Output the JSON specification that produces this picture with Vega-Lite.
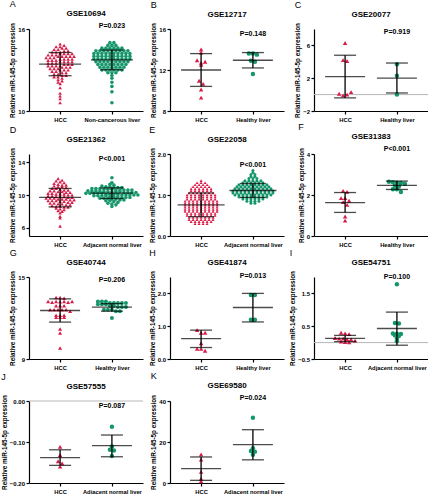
{
  "$schema": "https://vega.github.io/schema/vega-lite/v6.json",
  "background": "white",
  "padding": {"left": 1, "top": 0, "right": 0, "bottom": 0},
  "config": {
    "font": "Liberation Sans",
    "view": {"stroke": null},
    "axis": {"grid": false, "labelOverlap": false, "domainColor": "#000", "tickColor": "#000", "labelColor": "#000", "titleColor": "#000", "domainWidth": 1.2, "tickWidth": 1.2, "tickSize": 3, "labelFontWeight": "bold", "labelFontSize": 6, "labelPadding": 1.5, "titleFontSize": 6.3, "titleFontWeight": "bold", "titlePadding": 2},
    "axisY": {"labelBaseline": "middle", "labelAlign": "right"},
    "axisX": {"labelAngle": 0, "labelFontSize": 5.8, "labelPadding": 2},
    "title": {"fontSize": 8, "fontWeight": "bold", "color": "#000", "offset": 4},
    "point": {"filled": true, "opacity": 1, "strokeWidth": 0},
    "tick": {"color": "#000", "thickness": 1.3},
    "rule": {"color": "#000", "strokeWidth": 1.3},
    "text": {"fontWeight": "bold", "fontSize": 7, "color": "#000"}
  },
  "datasets": {
    "A": [
      {"g":"HCC","v":10.6},{"g":"HCC","v":10.9},{"g":"HCC","v":11.1},{"g":"HCC","v":11.3},{"g":"HCC","v":11.7},{"g":"HCC","v":12.0},{"g":"HCC","v":12.1},{"g":"HCC","v":12.2},
      {"g":"HCC","v":12.3},{"g":"HCC","v":12.4},{"g":"HCC","v":12.5},{"g":"HCC","v":12.5},{"g":"HCC","v":12.6},{"g":"HCC","v":12.6},{"g":"HCC","v":12.7},{"g":"HCC","v":12.7},{"g":"HCC","v":12.8},{"g":"HCC","v":12.8},{"g":"HCC","v":12.9},{"g":"HCC","v":12.9},
      {"g":"HCC","v":13.0},{"g":"HCC","v":13.0},{"g":"HCC","v":13.0},{"g":"HCC","v":13.1},{"g":"HCC","v":13.1},{"g":"HCC","v":13.1},{"g":"HCC","v":13.2},{"g":"HCC","v":13.2},{"g":"HCC","v":13.2},{"g":"HCC","v":13.3},{"g":"HCC","v":13.3},{"g":"HCC","v":13.3},{"g":"HCC","v":13.3},{"g":"HCC","v":13.4},{"g":"HCC","v":13.4},{"g":"HCC","v":13.4},{"g":"HCC","v":13.5},{"g":"HCC","v":13.5},{"g":"HCC","v":13.5},
      {"g":"HCC","v":13.6},{"g":"HCC","v":13.6},{"g":"HCC","v":13.6},{"g":"HCC","v":13.6},{"g":"HCC","v":13.7},{"g":"HCC","v":13.7},{"g":"HCC","v":13.7},{"g":"HCC","v":13.8},{"g":"HCC","v":13.8},{"g":"HCC","v":13.8},{"g":"HCC","v":13.8},{"g":"HCC","v":13.9},{"g":"HCC","v":13.9},{"g":"HCC","v":13.9},{"g":"HCC","v":14.0},{"g":"HCC","v":14.0},{"g":"HCC","v":14.0},{"g":"HCC","v":14.0},{"g":"HCC","v":14.0},
      {"g":"HCC","v":14.1},{"g":"HCC","v":14.1},{"g":"HCC","v":14.1},{"g":"HCC","v":14.2},{"g":"HCC","v":14.2},{"g":"HCC","v":14.2},{"g":"HCC","v":14.2},{"g":"HCC","v":14.3},{"g":"HCC","v":14.3},{"g":"HCC","v":14.3},{"g":"HCC","v":14.4},{"g":"HCC","v":14.4},{"g":"HCC","v":14.5},{"g":"HCC","v":14.5},
      {"g":"HCC","v":14.6},{"g":"HCC","v":14.6},{"g":"HCC","v":14.7},{"g":"HCC","v":14.7},{"g":"HCC","v":14.8},{"g":"HCC","v":14.9},
      {"g":"Non-cancerous liver","v":10.6},{"g":"Non-cancerous liver","v":11.4},{"g":"Non-cancerous liver","v":11.8},{"g":"Non-cancerous liver","v":12.1},{"g":"Non-cancerous liver","v":12.4},{"g":"Non-cancerous liver","v":12.6},
      {"g":"Non-cancerous liver","v":12.8},{"g":"Non-cancerous liver","v":12.8},{"g":"Non-cancerous liver","v":12.8},
      {"g":"Non-cancerous liver","v":13.0},{"g":"Non-cancerous liver","v":13.0},{"g":"Non-cancerous liver","v":13.0},{"g":"Non-cancerous liver","v":13.0},{"g":"Non-cancerous liver","v":13.0},{"g":"Non-cancerous liver","v":13.0},
      {"g":"Non-cancerous liver","v":13.2},{"g":"Non-cancerous liver","v":13.2},{"g":"Non-cancerous liver","v":13.2},{"g":"Non-cancerous liver","v":13.2},{"g":"Non-cancerous liver","v":13.2},{"g":"Non-cancerous liver","v":13.2},{"g":"Non-cancerous liver","v":13.2},
      {"g":"Non-cancerous liver","v":13.4},{"g":"Non-cancerous liver","v":13.4},{"g":"Non-cancerous liver","v":13.4},{"g":"Non-cancerous liver","v":13.4},{"g":"Non-cancerous liver","v":13.4},{"g":"Non-cancerous liver","v":13.4},{"g":"Non-cancerous liver","v":13.4},{"g":"Non-cancerous liver","v":13.4},
      {"g":"Non-cancerous liver","v":13.6},{"g":"Non-cancerous liver","v":13.6},{"g":"Non-cancerous liver","v":13.6},{"g":"Non-cancerous liver","v":13.6},{"g":"Non-cancerous liver","v":13.6},{"g":"Non-cancerous liver","v":13.6},{"g":"Non-cancerous liver","v":13.6},{"g":"Non-cancerous liver","v":13.6},{"g":"Non-cancerous liver","v":13.6},
      {"g":"Non-cancerous liver","v":13.8},{"g":"Non-cancerous liver","v":13.8},{"g":"Non-cancerous liver","v":13.8},{"g":"Non-cancerous liver","v":13.8},{"g":"Non-cancerous liver","v":13.8},{"g":"Non-cancerous liver","v":13.8},{"g":"Non-cancerous liver","v":13.8},{"g":"Non-cancerous liver","v":13.8},{"g":"Non-cancerous liver","v":13.8},{"g":"Non-cancerous liver","v":13.8},
      {"g":"Non-cancerous liver","v":14.0},{"g":"Non-cancerous liver","v":14.0},{"g":"Non-cancerous liver","v":14.0},{"g":"Non-cancerous liver","v":14.0},{"g":"Non-cancerous liver","v":14.0},{"g":"Non-cancerous liver","v":14.0},{"g":"Non-cancerous liver","v":14.0},{"g":"Non-cancerous liver","v":14.0},{"g":"Non-cancerous liver","v":14.0},{"g":"Non-cancerous liver","v":14.0},
      {"g":"Non-cancerous liver","v":14.2},{"g":"Non-cancerous liver","v":14.2},{"g":"Non-cancerous liver","v":14.2},{"g":"Non-cancerous liver","v":14.2},{"g":"Non-cancerous liver","v":14.2},{"g":"Non-cancerous liver","v":14.2},{"g":"Non-cancerous liver","v":14.2},{"g":"Non-cancerous liver","v":14.2},{"g":"Non-cancerous liver","v":14.2},{"g":"Non-cancerous liver","v":14.2},
      {"g":"Non-cancerous liver","v":14.4},{"g":"Non-cancerous liver","v":14.4},{"g":"Non-cancerous liver","v":14.4},{"g":"Non-cancerous liver","v":14.4},{"g":"Non-cancerous liver","v":14.4},{"g":"Non-cancerous liver","v":14.4},{"g":"Non-cancerous liver","v":14.4},{"g":"Non-cancerous liver","v":14.4},{"g":"Non-cancerous liver","v":14.4},
      {"g":"Non-cancerous liver","v":14.6},{"g":"Non-cancerous liver","v":14.6},{"g":"Non-cancerous liver","v":14.6},{"g":"Non-cancerous liver","v":14.6},{"g":"Non-cancerous liver","v":14.6},{"g":"Non-cancerous liver","v":14.6},
      {"g":"Non-cancerous liver","v":14.8},{"g":"Non-cancerous liver","v":14.8},{"g":"Non-cancerous liver","v":14.8},{"g":"Non-cancerous liver","v":15.0},{"g":"Non-cancerous liver","v":15.0}
    ],
    "A_s": [{"g":"HCC","m":13.43,"lo":12.58,"hi":14.28},{"g":"Non-cancerous liver","m":13.74,"lo":13.02,"hi":14.46}],
    "B": [
      {"g":"HCC","v":14.0},{"g":"HCC","v":13.7},{"g":"HCC","v":12.95},{"g":"HCC","v":12.7},{"g":"HCC","v":12.8},{"g":"HCC","v":12.5},{"g":"HCC","v":10.95},{"g":"HCC","v":10.65},{"g":"HCC","v":10.1},{"g":"HCC","v":9.3},
      {"g":"Healthy liver","v":13.6},{"g":"Healthy liver","v":13.6},{"g":"Healthy liver","v":13.5},{"g":"Healthy liver","v":12.9},{"g":"Healthy liver","v":12.8},{"g":"Healthy liver","v":11.6}
    ],
    "B_s": [{"g":"HCC","m":12.0,"lo":10.4,"hi":13.6},{"g":"Healthy liver","m":12.95,"lo":12.2,"hi":13.7}],
    "C": [
      {"g":"HCC","v":6.3},{"g":"HCC","v":4.2},{"g":"HCC","v":4.1},{"g":"HCC","v":0.1},{"g":"HCC","v":-0.1},{"g":"HCC","v":0.0},{"g":"HCC","v":0.3},
      {"g":"Healthy liver","v":3.7},{"g":"Healthy liver","v":2.3},{"g":"Healthy liver","v":0.0}
    ],
    "C_s": [{"g":"HCC","m":2.2,"lo":-0.4,"hi":4.8},{"g":"Healthy liver","m":2.0,"lo":0.2,"hi":3.85}],
    "D": [
      {"g":"HCC","v":12.0},{"g":"HCC","v":11.8},{"g":"HCC","v":11.7},{"g":"HCC","v":11.6},{"g":"HCC","v":11.5},{"g":"HCC","v":11.4},
      {"g":"HCC","v":11.3},{"g":"HCC","v":11.2},{"g":"HCC","v":11.2},{"g":"HCC","v":11.1},{"g":"HCC","v":11.0},{"g":"HCC","v":11.0},
      {"g":"HCC","v":10.9},{"g":"HCC","v":10.8},{"g":"HCC","v":10.8},{"g":"HCC","v":10.7},{"g":"HCC","v":10.6},{"g":"HCC","v":10.6},{"g":"HCC","v":10.5},{"g":"HCC","v":10.5},
      {"g":"HCC","v":10.4},{"g":"HCC","v":10.4},{"g":"HCC","v":10.3},{"g":"HCC","v":10.3},{"g":"HCC","v":10.2},{"g":"HCC","v":10.2},{"g":"HCC","v":10.1},{"g":"HCC","v":10.1},{"g":"HCC","v":10.1},{"g":"HCC","v":10.0},{"g":"HCC","v":10.0},
      {"g":"HCC","v":9.9},{"g":"HCC","v":9.9},{"g":"HCC","v":9.8},{"g":"HCC","v":9.8},{"g":"HCC","v":9.8},{"g":"HCC","v":9.7},{"g":"HCC","v":9.7},{"g":"HCC","v":9.6},{"g":"HCC","v":9.6},{"g":"HCC","v":9.6},{"g":"HCC","v":9.5},{"g":"HCC","v":9.5},{"g":"HCC","v":9.5},
      {"g":"HCC","v":9.4},{"g":"HCC","v":9.4},{"g":"HCC","v":9.3},{"g":"HCC","v":9.3},{"g":"HCC","v":9.3},{"g":"HCC","v":9.2},{"g":"HCC","v":9.2},{"g":"HCC","v":9.1},{"g":"HCC","v":9.1},{"g":"HCC","v":9.0},{"g":"HCC","v":9.0},
      {"g":"HCC","v":8.9},{"g":"HCC","v":8.9},{"g":"HCC","v":8.8},{"g":"HCC","v":8.8},{"g":"HCC","v":8.7},{"g":"HCC","v":8.6},{"g":"HCC","v":8.6},{"g":"HCC","v":8.5},{"g":"HCC","v":8.5},
      {"g":"HCC","v":8.4},{"g":"HCC","v":8.3},{"g":"HCC","v":8.2},{"g":"HCC","v":8.1},{"g":"HCC","v":8.0},{"g":"HCC","v":7.8},{"g":"HCC","v":7.4},{"g":"HCC","v":7.2},{"g":"HCC","v":6.2},
      {"g":"Adjacent normal liver","v":12.1},{"g":"Adjacent normal liver","v":11.5},{"g":"Adjacent normal liver","v":11.3},{"g":"Adjacent normal liver","v":11.2},{"g":"Adjacent normal liver","v":11.1},{"g":"Adjacent normal liver","v":11.0},{"g":"Adjacent normal liver","v":11.0},
      {"g":"Adjacent normal liver","v":10.9},{"g":"Adjacent normal liver","v":10.9},{"g":"Adjacent normal liver","v":10.9},{"g":"Adjacent normal liver","v":10.8},{"g":"Adjacent normal liver","v":10.8},{"g":"Adjacent normal liver","v":10.8},
      {"g":"Adjacent normal liver","v":10.7},{"g":"Adjacent normal liver","v":10.7},{"g":"Adjacent normal liver","v":10.7},{"g":"Adjacent normal liver","v":10.6},{"g":"Adjacent normal liver","v":10.6},{"g":"Adjacent normal liver","v":10.6},{"g":"Adjacent normal liver","v":10.6},{"g":"Adjacent normal liver","v":10.6},
      {"g":"Adjacent normal liver","v":10.5},{"g":"Adjacent normal liver","v":10.5},{"g":"Adjacent normal liver","v":10.5},{"g":"Adjacent normal liver","v":10.5},
      {"g":"Adjacent normal liver","v":10.4},{"g":"Adjacent normal liver","v":10.4},{"g":"Adjacent normal liver","v":10.4},{"g":"Adjacent normal liver","v":10.4},{"g":"Adjacent normal liver","v":10.4},
      {"g":"Adjacent normal liver","v":10.3},{"g":"Adjacent normal liver","v":10.3},{"g":"Adjacent normal liver","v":10.3},{"g":"Adjacent normal liver","v":10.3},
      {"g":"Adjacent normal liver","v":10.2},{"g":"Adjacent normal liver","v":10.2},{"g":"Adjacent normal liver","v":10.2},{"g":"Adjacent normal liver","v":10.2},{"g":"Adjacent normal liver","v":10.2},
      {"g":"Adjacent normal liver","v":10.1},{"g":"Adjacent normal liver","v":10.1},{"g":"Adjacent normal liver","v":10.1},{"g":"Adjacent normal liver","v":10.1},
      {"g":"Adjacent normal liver","v":10.0},{"g":"Adjacent normal liver","v":10.0},{"g":"Adjacent normal liver","v":10.0},{"g":"Adjacent normal liver","v":10.0},{"g":"Adjacent normal liver","v":10.0},
      {"g":"Adjacent normal liver","v":9.9},{"g":"Adjacent normal liver","v":9.9},{"g":"Adjacent normal liver","v":9.9},{"g":"Adjacent normal liver","v":9.9},
      {"g":"Adjacent normal liver","v":9.8},{"g":"Adjacent normal liver","v":9.8},{"g":"Adjacent normal liver","v":9.8},{"g":"Adjacent normal liver","v":9.7},{"g":"Adjacent normal liver","v":9.7},{"g":"Adjacent normal liver","v":9.7},
      {"g":"Adjacent normal liver","v":9.6},{"g":"Adjacent normal liver","v":9.6},{"g":"Adjacent normal liver","v":9.6},{"g":"Adjacent normal liver","v":9.5},{"g":"Adjacent normal liver","v":9.5},{"g":"Adjacent normal liver","v":9.4},{"g":"Adjacent normal liver","v":9.4},
      {"g":"Adjacent normal liver","v":9.3},{"g":"Adjacent normal liver","v":9.3},{"g":"Adjacent normal liver","v":9.2},{"g":"Adjacent normal liver","v":9.1},{"g":"Adjacent normal liver","v":9.0},{"g":"Adjacent normal liver","v":8.9},{"g":"Adjacent normal liver","v":8.8},{"g":"Adjacent normal liver","v":8.6}
    ],
    "D_s": [{"g":"HCC","m":9.7,"lo":8.55,"hi":10.8},{"g":"Adjacent normal liver","m":10.22,"lo":9.57,"hi":10.87}],
    "E": [
      {"g":"HCC","v":0.3},{"g":"HCC","v":0.3},{"g":"HCC","v":0.3},{"g":"HCC","v":0.3},
      {"g":"HCC","v":0.35},{"g":"HCC","v":0.35},{"g":"HCC","v":0.35},{"g":"HCC","v":0.35},{"g":"HCC","v":0.35},{"g":"HCC","v":0.35},
      {"g":"HCC","v":0.4},{"g":"HCC","v":0.4},{"g":"HCC","v":0.4},{"g":"HCC","v":0.4},{"g":"HCC","v":0.4},{"g":"HCC","v":0.4},{"g":"HCC","v":0.4},
      {"g":"HCC","v":0.45},{"g":"HCC","v":0.45},{"g":"HCC","v":0.45},{"g":"HCC","v":0.45},{"g":"HCC","v":0.45},{"g":"HCC","v":0.45},{"g":"HCC","v":0.45},
      {"g":"HCC","v":0.5},{"g":"HCC","v":0.5},{"g":"HCC","v":0.5},{"g":"HCC","v":0.5},{"g":"HCC","v":0.5},{"g":"HCC","v":0.5},{"g":"HCC","v":0.5},{"g":"HCC","v":0.5},
      {"g":"HCC","v":0.55},{"g":"HCC","v":0.55},{"g":"HCC","v":0.55},{"g":"HCC","v":0.55},{"g":"HCC","v":0.55},{"g":"HCC","v":0.55},{"g":"HCC","v":0.55},{"g":"HCC","v":0.55},
      {"g":"HCC","v":0.6},{"g":"HCC","v":0.6},{"g":"HCC","v":0.6},{"g":"HCC","v":0.6},{"g":"HCC","v":0.6},{"g":"HCC","v":0.6},{"g":"HCC","v":0.6},{"g":"HCC","v":0.6},{"g":"HCC","v":0.6},
      {"g":"HCC","v":0.65},{"g":"HCC","v":0.65},{"g":"HCC","v":0.65},{"g":"HCC","v":0.65},{"g":"HCC","v":0.65},{"g":"HCC","v":0.65},{"g":"HCC","v":0.65},{"g":"HCC","v":0.65},{"g":"HCC","v":0.65},
      {"g":"HCC","v":0.7},{"g":"HCC","v":0.7},{"g":"HCC","v":0.7},{"g":"HCC","v":0.7},{"g":"HCC","v":0.7},{"g":"HCC","v":0.7},{"g":"HCC","v":0.7},{"g":"HCC","v":0.7},{"g":"HCC","v":0.7},
      {"g":"HCC","v":0.75},{"g":"HCC","v":0.75},{"g":"HCC","v":0.75},{"g":"HCC","v":0.75},{"g":"HCC","v":0.75},{"g":"HCC","v":0.75},{"g":"HCC","v":0.75},{"g":"HCC","v":0.75},{"g":"HCC","v":0.75},
      {"g":"HCC","v":0.8},{"g":"HCC","v":0.8},{"g":"HCC","v":0.8},{"g":"HCC","v":0.8},{"g":"HCC","v":0.8},{"g":"HCC","v":0.8},{"g":"HCC","v":0.8},{"g":"HCC","v":0.8},{"g":"HCC","v":0.8},
      {"g":"HCC","v":0.85},{"g":"HCC","v":0.85},{"g":"HCC","v":0.85},{"g":"HCC","v":0.85},{"g":"HCC","v":0.85},{"g":"HCC","v":0.85},{"g":"HCC","v":0.85},{"g":"HCC","v":0.85},{"g":"HCC","v":0.85},
      {"g":"HCC","v":0.9},{"g":"HCC","v":0.9},{"g":"HCC","v":0.9},{"g":"HCC","v":0.9},{"g":"HCC","v":0.9},{"g":"HCC","v":0.9},{"g":"HCC","v":0.9},{"g":"HCC","v":0.9},
      {"g":"HCC","v":0.95},{"g":"HCC","v":0.95},{"g":"HCC","v":0.95},{"g":"HCC","v":0.95},{"g":"HCC","v":0.95},{"g":"HCC","v":0.95},{"g":"HCC","v":0.95},{"g":"HCC","v":0.95},
      {"g":"HCC","v":1.0},{"g":"HCC","v":1.0},{"g":"HCC","v":1.0},{"g":"HCC","v":1.0},{"g":"HCC","v":1.0},{"g":"HCC","v":1.0},{"g":"HCC","v":1.0},{"g":"HCC","v":1.0},
      {"g":"HCC","v":1.05},{"g":"HCC","v":1.05},{"g":"HCC","v":1.05},{"g":"HCC","v":1.05},{"g":"HCC","v":1.05},{"g":"HCC","v":1.05},{"g":"HCC","v":1.05},
      {"g":"HCC","v":1.1},{"g":"HCC","v":1.1},{"g":"HCC","v":1.1},{"g":"HCC","v":1.1},{"g":"HCC","v":1.1},{"g":"HCC","v":1.1},
      {"g":"HCC","v":1.15},{"g":"HCC","v":1.15},{"g":"HCC","v":1.15},{"g":"HCC","v":1.15},{"g":"HCC","v":1.15},{"g":"HCC","v":1.15},
      {"g":"HCC","v":1.2},{"g":"HCC","v":1.2},{"g":"HCC","v":1.2},{"g":"HCC","v":1.2},{"g":"HCC","v":1.2},
      {"g":"HCC","v":1.25},{"g":"HCC","v":1.25},{"g":"HCC","v":1.25},{"g":"HCC","v":1.25},
      {"g":"HCC","v":1.3},{"g":"HCC","v":1.3},{"g":"HCC","v":1.3},{"g":"HCC","v":1.35},
      {"g":"Adjacent normal liver","v":0.8},{"g":"Adjacent normal liver","v":0.8},
      {"g":"Adjacent normal liver","v":0.85},{"g":"Adjacent normal liver","v":0.85},{"g":"Adjacent normal liver","v":0.85},{"g":"Adjacent normal liver","v":0.85},
      {"g":"Adjacent normal liver","v":0.9},{"g":"Adjacent normal liver","v":0.9},{"g":"Adjacent normal liver","v":0.9},{"g":"Adjacent normal liver","v":0.9},{"g":"Adjacent normal liver","v":0.9},{"g":"Adjacent normal liver","v":0.9},
      {"g":"Adjacent normal liver","v":0.95},{"g":"Adjacent normal liver","v":0.95},{"g":"Adjacent normal liver","v":0.95},{"g":"Adjacent normal liver","v":0.95},{"g":"Adjacent normal liver","v":0.95},{"g":"Adjacent normal liver","v":0.95},{"g":"Adjacent normal liver","v":0.95},{"g":"Adjacent normal liver","v":0.95},
      {"g":"Adjacent normal liver","v":1.0},{"g":"Adjacent normal liver","v":1.0},{"g":"Adjacent normal liver","v":1.0},{"g":"Adjacent normal liver","v":1.0},{"g":"Adjacent normal liver","v":1.0},{"g":"Adjacent normal liver","v":1.0},{"g":"Adjacent normal liver","v":1.0},{"g":"Adjacent normal liver","v":1.0},{"g":"Adjacent normal liver","v":1.0},{"g":"Adjacent normal liver","v":1.0},
      {"g":"Adjacent normal liver","v":1.05},{"g":"Adjacent normal liver","v":1.05},{"g":"Adjacent normal liver","v":1.05},{"g":"Adjacent normal liver","v":1.05},{"g":"Adjacent normal liver","v":1.05},{"g":"Adjacent normal liver","v":1.05},{"g":"Adjacent normal liver","v":1.05},{"g":"Adjacent normal liver","v":1.05},{"g":"Adjacent normal liver","v":1.05},{"g":"Adjacent normal liver","v":1.05},{"g":"Adjacent normal liver","v":1.05},
      {"g":"Adjacent normal liver","v":1.1},{"g":"Adjacent normal liver","v":1.1},{"g":"Adjacent normal liver","v":1.1},{"g":"Adjacent normal liver","v":1.1},{"g":"Adjacent normal liver","v":1.1},{"g":"Adjacent normal liver","v":1.1},{"g":"Adjacent normal liver","v":1.1},{"g":"Adjacent normal liver","v":1.1},{"g":"Adjacent normal liver","v":1.1},{"g":"Adjacent normal liver","v":1.1},{"g":"Adjacent normal liver","v":1.1},
      {"g":"Adjacent normal liver","v":1.15},{"g":"Adjacent normal liver","v":1.15},{"g":"Adjacent normal liver","v":1.15},{"g":"Adjacent normal liver","v":1.15},{"g":"Adjacent normal liver","v":1.15},{"g":"Adjacent normal liver","v":1.15},{"g":"Adjacent normal liver","v":1.15},{"g":"Adjacent normal liver","v":1.15},{"g":"Adjacent normal liver","v":1.15},{"g":"Adjacent normal liver","v":1.15},
      {"g":"Adjacent normal liver","v":1.2},{"g":"Adjacent normal liver","v":1.2},{"g":"Adjacent normal liver","v":1.2},{"g":"Adjacent normal liver","v":1.2},{"g":"Adjacent normal liver","v":1.2},{"g":"Adjacent normal liver","v":1.2},{"g":"Adjacent normal liver","v":1.2},{"g":"Adjacent normal liver","v":1.2},{"g":"Adjacent normal liver","v":1.2},
      {"g":"Adjacent normal liver","v":1.25},{"g":"Adjacent normal liver","v":1.25},{"g":"Adjacent normal liver","v":1.25},{"g":"Adjacent normal liver","v":1.25},{"g":"Adjacent normal liver","v":1.25},{"g":"Adjacent normal liver","v":1.25},{"g":"Adjacent normal liver","v":1.25},{"g":"Adjacent normal liver","v":1.25},
      {"g":"Adjacent normal liver","v":1.3},{"g":"Adjacent normal liver","v":1.3},{"g":"Adjacent normal liver","v":1.3},{"g":"Adjacent normal liver","v":1.3},{"g":"Adjacent normal liver","v":1.3},{"g":"Adjacent normal liver","v":1.3},
      {"g":"Adjacent normal liver","v":1.35},{"g":"Adjacent normal liver","v":1.35},{"g":"Adjacent normal liver","v":1.35},{"g":"Adjacent normal liver","v":1.35},{"g":"Adjacent normal liver","v":1.35},
      {"g":"Adjacent normal liver","v":1.4},{"g":"Adjacent normal liver","v":1.4},{"g":"Adjacent normal liver","v":1.4},
      {"g":"Adjacent normal liver","v":1.45},{"g":"Adjacent normal liver","v":1.45},{"g":"Adjacent normal liver","v":1.5},{"g":"Adjacent normal liver","v":1.5},{"g":"Adjacent normal liver","v":1.55},{"g":"Adjacent normal liver","v":1.6}
    ],
    "E_s": [{"g":"HCC","m":0.76,"lo":0.47,"hi":1.05},{"g":"Adjacent normal liver","m":1.11,"lo":0.94,"hi":1.28}],
    "F": [
      {"g":"HCC","v":2.2},{"g":"HCC","v":2.15},{"g":"HCC","v":1.85},{"g":"HCC","v":1.85},{"g":"HCC","v":1.72},{"g":"HCC","v":1.65},{"g":"HCC","v":1.52},{"g":"HCC","v":0.95},{"g":"HCC","v":0.75},
      {"g":"Healthy liver","v":2.65},{"g":"Healthy liver","v":2.62},{"g":"Healthy liver","v":2.6},{"g":"Healthy liver","v":2.58},{"g":"Healthy liver","v":2.55},{"g":"Healthy liver","v":2.45},{"g":"Healthy liver","v":2.42},{"g":"Healthy liver","v":2.28},{"g":"Healthy liver","v":2.28},{"g":"Healthy liver","v":2.15}
    ],
    "F_s": [{"g":"HCC","m":1.63,"lo":1.15,"hi":2.12},{"g":"Healthy liver","m":2.47,"lo":2.27,"hi":2.68}],
    "G": [
      {"g":"HCC","v":13.5},{"g":"HCC","v":13.5},{"g":"HCC","v":13.45},
      {"g":"HCC","v":13.2},{"g":"HCC","v":13.15},{"g":"HCC","v":13.2},{"g":"HCC","v":13.18},{"g":"HCC","v":13.2},{"g":"HCC","v":13.15},{"g":"HCC","v":13.2},
      {"g":"HCC","v":12.9},{"g":"HCC","v":12.9},{"g":"HCC","v":12.9},
      {"g":"HCC","v":12.6},{"g":"HCC","v":12.6},{"g":"HCC","v":12.6},{"g":"HCC","v":12.6},{"g":"HCC","v":12.6},{"g":"HCC","v":12.5},
      {"g":"HCC","v":12.2},{"g":"HCC","v":12.2},{"g":"HCC","v":12.2},{"g":"HCC","v":12.05},{"g":"HCC","v":12.05},{"g":"HCC","v":12.05},
      {"g":"HCC","v":11.2},{"g":"HCC","v":10.9},{"g":"HCC","v":9.8},
      {"g":"Healthy liver","v":13.2},{"g":"Healthy liver","v":13.2},{"g":"Healthy liver","v":13.2},{"g":"Healthy liver","v":13.1},{"g":"Healthy liver","v":13.1},{"g":"Healthy liver","v":13.1},{"g":"Healthy liver","v":13.1},{"g":"Healthy liver","v":13.1},
      {"g":"Healthy liver","v":13.0},{"g":"Healthy liver","v":13.0},{"g":"Healthy liver","v":13.0},{"g":"Healthy liver","v":12.9},{"g":"Healthy liver","v":12.9},{"g":"Healthy liver","v":12.8},{"g":"Healthy liver","v":12.8},{"g":"Healthy liver","v":12.8},
      {"g":"Healthy liver","v":12.6},{"g":"Healthy liver","v":12.6},{"g":"Healthy liver","v":12.6},{"g":"Healthy liver","v":12.5},{"g":"Healthy liver","v":12.5},{"g":"Healthy liver","v":12.0}
    ],
    "G_s": [{"g":"HCC","m":12.55,"lo":11.7,"hi":13.4},{"g":"Healthy liver","m":12.8,"lo":12.5,"hi":13.05}],
    "H": [
      {"g":"HCC","v":0.88},{"g":"HCC","v":0.8},{"g":"HCC","v":0.8},{"g":"HCC","v":0.48},{"g":"HCC","v":0.31},{"g":"HCC","v":0.31},{"g":"HCC","v":0.25},
      {"g":"Healthy liver","v":1.95},{"g":"Healthy liver","v":1.95},{"g":"Healthy liver","v":1.2},{"g":"Healthy liver","v":1.2}
    ],
    "H_s": [{"g":"HCC","m":0.62,"lo":0.35,"hi":0.88},{"g":"Healthy liver","m":1.57,"lo":1.13,"hi":2.0}],
    "I": [
      {"g":"HCC","v":0.3},{"g":"HCC","v":0.28},{"g":"HCC","v":0.26},{"g":"HCC","v":0.14},{"g":"HCC","v":0.12},{"g":"HCC","v":0.12},{"g":"HCC","v":0.1},{"g":"HCC","v":0.1},{"g":"HCC","v":0.06},{"g":"HCC","v":0.03},{"g":"HCC","v":0.02},{"g":"HCC","v":0.01},
      {"g":"Adjacent normal liver","v":1.78},{"g":"Adjacent normal liver","v":0.6},{"g":"Adjacent normal liver","v":0.58},{"g":"Adjacent normal liver","v":0.28},{"g":"Adjacent normal liver","v":0.27},{"g":"Adjacent normal liver","v":0.26},{"g":"Adjacent normal liver","v":0.22},{"g":"Adjacent normal liver","v":0.2},{"g":"Adjacent normal liver","v":0.12},{"g":"Adjacent normal liver","v":0.04}
    ],
    "I_s": [{"g":"HCC","m":0.13,"lo":0.03,"hi":0.22},{"g":"Adjacent normal liver","m":0.43,"lo":-0.08,"hi":0.93}],
    "J": [
      {"g":"HCC","v":-0.112},{"g":"HCC","v":-0.132},{"g":"HCC","v":-0.147},{"g":"HCC","v":-0.152},{"g":"HCC","v":-0.16},
      {"g":"Adjacent normal liver","v":-0.063},{"g":"Adjacent normal liver","v":-0.111},{"g":"Adjacent normal liver","v":-0.119},{"g":"Adjacent normal liver","v":-0.121},{"g":"Adjacent normal liver","v":-0.134}
    ],
    "J_s": [{"g":"HCC","m":-0.138,"lo":-0.157,"hi":-0.119},{"g":"Adjacent normal liver","m":-0.109,"lo":-0.136,"hi":-0.083}],
    "K": [
      {"g":"HCC","v":13.9},{"g":"HCC","v":11.4},{"g":"HCC","v":5.4},{"g":"HCC","v":2.1},{"g":"HCC","v":0.8},
      {"g":"Adjacent normal liver","v":31.8},{"g":"Adjacent normal liver","v":17.0},{"g":"Adjacent normal liver","v":15.6},{"g":"Adjacent normal liver","v":15.3},{"g":"Adjacent normal liver","v":13.8}
    ],
    "K_s": [{"g":"HCC","m":7.0,"lo":1.3,"hi":12.7},{"g":"Adjacent normal liver","m":18.7,"lo":11.3,"hi":26.0}]
  },
  "columns": 3,
  "spacing": {"row": 1, "column": 5},
  "concat": [
    {"title": {"text": "A", "anchor": "start", "fontWeight": "normal", "fontSize": 9, "offset": 1},
     "vconcat": [{"title": "GSE10694", "width": 114, "height": 82,
      "layer": [
        {"data": {"name": "A"},
         "transform": [{"bin": {"step": 0.2, "anchor": 0.1}, "field": "v", "as": "vb"}, {"window": [{"op": "row_number", "as": "r"}, {"op": "count", "as": "n"}], "groupby": ["g", "vb"], "frame": [null, null]}, {"calculate": "datum.r - (datum.n + 1) / 2", "as": "o"}],
         "mark": {"type": "point", "size": 13},
         "encoding": {
           "x": {"field": "g", "type": "nominal", "scale": {"type": "point", "padding": 0.6, "domain": ["HCC", "Non-cancerous liver"]}, "axis": {"title": null}},
           "xOffset": {"field": "o", "type": "quantitative", "scale": {"domain": [-1, 1], "range": [-4, 4]}},
           "y": {"field": "v", "type": "quantitative", "scale": {"domain": [10, 16], "nice": false, "zero": false}, "axis": {"values": [10, 12, 14, 16], "labelOverlap": false, "title": "Relative miR-145-5p expression"}},
           "color": {"condition": {"test": "datum.g === 'HCC'", "value": "#d81c48"}, "value": "#16966c"},
           "shape": {"condition": {"test": "datum.g === 'HCC'", "value": "triangle-up"}, "value": "circle"}}},
        {"data": {"name": "A_s"}, "mark": "rule", "encoding": {"x": {"field": "g", "type": "nominal"}, "y": {"field": "lo", "type": "quantitative"}, "y2": {"field": "hi"}}},
        {"data": {"name": "A_s"}, "mark": {"type": "tick", "size": 42}, "encoding": {"x": {"field": "g", "type": "nominal"}, "y": {"field": "m", "type": "quantitative"}}},
        {"data": {"name": "A_s"}, "mark": {"type": "tick", "size": 23}, "encoding": {"x": {"field": "g", "type": "nominal"}, "y": {"field": "lo", "type": "quantitative"}}},
        {"data": {"name": "A_s"}, "mark": {"type": "tick", "size": 23}, "encoding": {"x": {"field": "g", "type": "nominal"}, "y": {"field": "hi", "type": "quantitative"}}},
        {"data": {"values": [{"g": "Non-cancerous liver", "y": 16.2, "t": "P=0.023"}]}, "mark": "text", "encoding": {"x": {"field": "g", "type": "nominal"}, "y": {"field": "y", "type": "quantitative"}, "text": {"field": "t"}}}
      ]}]},
    {"title": {"text": "B", "anchor": "start", "fontWeight": "normal", "fontSize": 9, "offset": 1},
     "vconcat": [{"title": "GSE12717", "width": 114, "height": 82,
      "layer": [
        {"data": {"name": "B"},
         "transform": [{"bin": {"step": 0.4, "anchor": 0.2}, "field": "v", "as": "vb"}, {"window": [{"op": "row_number", "as": "r"}, {"op": "count", "as": "n"}], "groupby": ["g", "vb"], "frame": [null, null]}, {"calculate": "datum.r - (datum.n + 1) / 2", "as": "o"}],
         "mark": {"type": "point", "size": 20},
         "encoding": {
           "x": {"field": "g", "type": "nominal", "scale": {"type": "point", "padding": 0.6, "domain": ["HCC", "Healthy liver"]}, "axis": {"title": null}},
           "xOffset": {"field": "o", "type": "quantitative", "scale": {"domain": [-1, 1], "range": [-5, 5]}},
           "y": {"field": "v", "type": "quantitative", "scale": {"domain": [8, 16], "nice": false, "zero": false}, "axis": {"values": [8, 10, 12, 14, 16], "labelOverlap": false, "title": "Relative miR-145-5p expression"}},
           "color": {"condition": {"test": "datum.g === 'HCC'", "value": "#d81c48"}, "value": "#16966c"},
           "shape": {"condition": {"test": "datum.g === 'HCC'", "value": "triangle-up"}, "value": "circle"}}},
        {"data": {"name": "B_s"}, "mark": "rule", "encoding": {"x": {"field": "g", "type": "nominal"}, "y": {"field": "lo", "type": "quantitative"}, "y2": {"field": "hi"}}},
        {"data": {"name": "B_s"}, "mark": {"type": "tick", "size": 40}, "encoding": {"x": {"field": "g", "type": "nominal"}, "y": {"field": "m", "type": "quantitative"}}},
        {"data": {"name": "B_s"}, "mark": {"type": "tick", "size": 22}, "encoding": {"x": {"field": "g", "type": "nominal"}, "y": {"field": "lo", "type": "quantitative"}}},
        {"data": {"name": "B_s"}, "mark": {"type": "tick", "size": 22}, "encoding": {"x": {"field": "g", "type": "nominal"}, "y": {"field": "hi", "type": "quantitative"}}},
        {"data": {"values": [{"g": "Healthy liver", "y": 15.56, "t": "P=0.148"}]}, "mark": "text", "encoding": {"x": {"field": "g", "type": "nominal"}, "y": {"field": "y", "type": "quantitative"}, "text": {"field": "t"}}}
      ]}]},
    {"title": {"text": "C", "anchor": "start", "fontWeight": "normal", "fontSize": 9, "offset": 1},
     "vconcat": [{"title": "GSE20077", "width": 114, "height": 82,
      "layer": [
        {"data": {"values": [{}]}, "mark": {"type": "rule", "color": "#b8b8b8", "strokeWidth": 1}, "encoding": {"y": {"datum": 0, "type": "quantitative"}}},
        {"data": {"name": "C"},
         "transform": [{"bin": {"step": 1, "anchor": 0.5}, "field": "v", "as": "vb"}, {"window": [{"op": "row_number", "as": "r"}, {"op": "count", "as": "n"}], "groupby": ["g", "vb"], "frame": [null, null]}, {"calculate": "datum.r - (datum.n + 1) / 2", "as": "o"}],
         "mark": {"type": "point", "size": 20},
         "encoding": {
           "x": {"field": "g", "type": "nominal", "scale": {"type": "point", "padding": 0.6, "domain": ["HCC", "Healthy liver"]}, "axis": {"title": null}},
           "xOffset": {"field": "o", "type": "quantitative", "scale": {"domain": [-1, 1], "range": [-5.5, 5.5]}},
           "y": {"field": "v", "type": "quantitative", "scale": {"domain": [-2, 8], "nice": false, "zero": false}, "axis": {"values": [-2, 0, 2, 4, 6, 8], "labelOverlap": false, "title": "Relative miR-145-5p expression"}},
           "color": {"condition": {"test": "datum.g === 'HCC'", "value": "#d81c48"}, "value": "#16966c"},
           "shape": {"condition": {"test": "datum.g === 'HCC'", "value": "triangle-up"}, "value": "circle"}}},
        {"data": {"name": "C_s"}, "mark": "rule", "encoding": {"x": {"field": "g", "type": "nominal"}, "y": {"field": "lo", "type": "quantitative"}, "y2": {"field": "hi"}}},
        {"data": {"name": "C_s"}, "mark": {"type": "tick", "size": 40}, "encoding": {"x": {"field": "g", "type": "nominal"}, "y": {"field": "m", "type": "quantitative"}}},
        {"data": {"name": "C_s"}, "mark": {"type": "tick", "size": 22}, "encoding": {"x": {"field": "g", "type": "nominal"}, "y": {"field": "lo", "type": "quantitative"}}},
        {"data": {"name": "C_s"}, "mark": {"type": "tick", "size": 22}, "encoding": {"x": {"field": "g", "type": "nominal"}, "y": {"field": "hi", "type": "quantitative"}}},
        {"data": {"values": [{"g": "Healthy liver", "y": 7.6, "t": "P=0.919"}]}, "mark": "text", "encoding": {"x": {"field": "g", "type": "nominal"}, "y": {"field": "y", "type": "quantitative"}, "text": {"field": "t"}}}
      ]}]},
    {"title": {"text": "D", "anchor": "start", "fontWeight": "normal", "fontSize": 9, "offset": 1},
     "vconcat": [{"title": "GSE21362", "width": 114, "height": 82,
      "layer": [
        {"data": {"name": "D"},
         "transform": [{"bin": {"step": 0.3, "anchor": 0.05}, "field": "v", "as": "vb"}, {"window": [{"op": "row_number", "as": "r"}, {"op": "count", "as": "n"}], "groupby": ["g", "vb"], "frame": [null, null]}, {"calculate": "datum.r - (datum.n + 1) / 2", "as": "o"}],
         "mark": {"type": "point", "size": 13},
         "encoding": {
           "x": {"field": "g", "type": "nominal", "scale": {"type": "point", "padding": 0.6, "domain": ["HCC", "Adjacent normal liver"]}, "axis": {"title": null}},
           "xOffset": {"field": "o", "type": "quantitative", "scale": {"domain": [-1, 1], "range": [-3.6, 3.6]}},
           "y": {"field": "v", "type": "quantitative", "scale": {"domain": [5, 15], "nice": false, "zero": false}, "axis": {"values": [6, 8, 10, 12, 14], "labelOverlap": false, "title": "Relative miR-145-5p expression"}},
           "color": {"condition": {"test": "datum.g === 'HCC'", "value": "#d81c48"}, "value": "#16966c"},
           "shape": {"condition": {"test": "datum.g === 'HCC'", "value": "triangle-up"}, "value": "circle"}}},
        {"data": {"name": "D_s"}, "mark": "rule", "encoding": {"x": {"field": "g", "type": "nominal"}, "y": {"field": "lo", "type": "quantitative"}, "y2": {"field": "hi"}}},
        {"data": {"name": "D_s"}, "mark": {"type": "tick", "size": 42}, "encoding": {"x": {"field": "g", "type": "nominal"}, "y": {"field": "m", "type": "quantitative"}}},
        {"data": {"name": "D_s"}, "mark": {"type": "tick", "size": 23}, "encoding": {"x": {"field": "g", "type": "nominal"}, "y": {"field": "lo", "type": "quantitative"}}},
        {"data": {"name": "D_s"}, "mark": {"type": "tick", "size": 23}, "encoding": {"x": {"field": "g", "type": "nominal"}, "y": {"field": "hi", "type": "quantitative"}}},
        {"data": {"values": [{"g": "Adjacent normal liver", "y": 14.43, "t": "P<0.001"}]}, "mark": "text", "encoding": {"x": {"field": "g", "type": "nominal"}, "y": {"field": "y", "type": "quantitative"}, "text": {"field": "t"}}}
      ]}]},
    {"title": {"text": "E", "anchor": "start", "fontWeight": "normal", "fontSize": 9, "offset": 1},
     "vconcat": [{"title": "GSE22058", "width": 114, "height": 82,
      "layer": [
        {"data": {"name": "E"},
         "transform": [{"bin": {"step": 0.05, "anchor": 0.025}, "field": "v", "as": "vb"}, {"window": [{"op": "row_number", "as": "r"}, {"op": "count", "as": "n"}], "groupby": ["g", "vb"], "frame": [null, null]}, {"calculate": "datum.r - (datum.n + 1) / 2", "as": "o"}],
         "mark": {"type": "point", "size": 9},
         "encoding": {
           "x": {"field": "g", "type": "nominal", "scale": {"type": "point", "padding": 0.6, "domain": ["HCC", "Adjacent normal liver"]}, "axis": {"title": null}},
           "xOffset": {"field": "o", "type": "quantitative", "scale": {"domain": [-1, 1], "range": [-3.6, 3.6]}},
           "y": {"field": "v", "type": "quantitative", "scale": {"domain": [0, 2], "nice": false, "zero": false}, "axis": {"values": [0, 0.5, 1, 1.5, 2], "format": ".1f", "labelOverlap": false, "title": "Relative miR-145-5p expression"}},
           "color": {"condition": {"test": "datum.g === 'HCC'", "value": "#d81c48"}, "value": "#16966c"},
           "shape": {"condition": {"test": "datum.g === 'HCC'", "value": "triangle-up"}, "value": "circle"}}},
        {"data": {"name": "E_s"}, "mark": "rule", "encoding": {"x": {"field": "g", "type": "nominal"}, "y": {"field": "lo", "type": "quantitative"}, "y2": {"field": "hi"}}},
        {"data": {"name": "E_s"}, "mark": {"type": "tick", "size": 47}, "encoding": {"x": {"field": "g", "type": "nominal"}, "y": {"field": "m", "type": "quantitative"}}},
        {"data": {"name": "E_s"}, "mark": {"type": "tick", "size": 26}, "encoding": {"x": {"field": "g", "type": "nominal"}, "y": {"field": "lo", "type": "quantitative"}}},
        {"data": {"name": "E_s"}, "mark": {"type": "tick", "size": 26}, "encoding": {"x": {"field": "g", "type": "nominal"}, "y": {"field": "hi", "type": "quantitative"}}},
        {"data": {"values": [{"g": "Adjacent normal liver", "y": 1.73, "t": "P<0.001"}]}, "mark": "text", "encoding": {"x": {"field": "g", "type": "nominal"}, "y": {"field": "y", "type": "quantitative"}, "text": {"field": "t"}}}
      ]}]},
    {"title": {"text": "F", "anchor": "start", "fontWeight": "normal", "fontSize": 9, "offset": 1},
     "vconcat": [{"title": "GSE31383", "width": 114, "height": 82,
      "layer": [
        {"data": {"name": "F"},
         "transform": [{"bin": {"step": 0.2, "anchor": 0.1}, "field": "v", "as": "vb"}, {"window": [{"op": "row_number", "as": "r"}, {"op": "count", "as": "n"}], "groupby": ["g", "vb"], "frame": [null, null]}, {"calculate": "datum.r - (datum.n + 1) / 2", "as": "o"}],
         "mark": {"type": "point", "size": 20},
         "encoding": {
           "x": {"field": "g", "type": "nominal", "scale": {"type": "point", "padding": 0.6, "domain": ["HCC", "Healthy liver"]}, "axis": {"title": null}},
           "xOffset": {"field": "o", "type": "quantitative", "scale": {"domain": [-1, 1], "range": [-5.5, 5.5]}},
           "y": {"field": "v", "type": "quantitative", "scale": {"domain": [0, 4], "nice": false, "zero": false}, "axis": {"values": [0, 1, 2, 3, 4], "labelOverlap": false, "title": "Relative miR-145-5p expression"}},
           "color": {"condition": {"test": "datum.g === 'HCC'", "value": "#d81c48"}, "value": "#16966c"},
           "shape": {"condition": {"test": "datum.g === 'HCC'", "value": "triangle-up"}, "value": "circle"}}},
        {"data": {"name": "F_s"}, "mark": "rule", "encoding": {"x": {"field": "g", "type": "nominal"}, "y": {"field": "lo", "type": "quantitative"}, "y2": {"field": "hi"}}},
        {"data": {"name": "F_s"}, "mark": {"type": "tick", "size": 40}, "encoding": {"x": {"field": "g", "type": "nominal"}, "y": {"field": "m", "type": "quantitative"}}},
        {"data": {"name": "F_s"}, "mark": {"type": "tick", "size": 22}, "encoding": {"x": {"field": "g", "type": "nominal"}, "y": {"field": "lo", "type": "quantitative"}}},
        {"data": {"name": "F_s"}, "mark": {"type": "tick", "size": 22}, "encoding": {"x": {"field": "g", "type": "nominal"}, "y": {"field": "hi", "type": "quantitative"}}},
        {"data": {"values": [{"g": "Healthy liver", "y": 4.24, "t": "P<0.001"}]}, "mark": "text", "encoding": {"x": {"field": "g", "type": "nominal"}, "y": {"field": "y", "type": "quantitative"}, "text": {"field": "t"}}}
      ]}]},
    {"title": {"text": "G", "anchor": "start", "fontWeight": "normal", "fontSize": 9, "offset": 1},
     "vconcat": [{"title": "GSE40744", "width": 114, "height": 82,
      "layer": [
        {"data": {"name": "G"},
         "transform": [{"bin": {"step": 0.3, "anchor": 0.15}, "field": "v", "as": "vb"}, {"window": [{"op": "row_number", "as": "r"}, {"op": "count", "as": "n"}], "groupby": ["g", "vb"], "frame": [null, null]}, {"calculate": "datum.r - (datum.n + 1) / 2", "as": "o"}],
         "mark": {"type": "point", "size": 16},
         "encoding": {
           "x": {"field": "g", "type": "nominal", "scale": {"type": "point", "padding": 0.6, "domain": ["HCC", "Healthy liver"]}, "axis": {"title": null}},
           "xOffset": {"field": "o", "type": "quantitative", "scale": {"domain": [-1, 1], "range": [-4.8, 4.8]}},
           "y": {"field": "v", "type": "quantitative", "scale": {"domain": [9, 15], "nice": false, "zero": false}, "axis": {"values": [9, 10, 11, 12, 13, 14, 15], "labelOverlap": false, "title": "Relative miR-145-5p expression"}},
           "color": {"condition": {"test": "datum.g === 'HCC'", "value": "#d81c48"}, "value": "#16966c"},
           "shape": {"condition": {"test": "datum.g === 'HCC'", "value": "triangle-up"}, "value": "circle"}}},
        {"data": {"name": "G_s"}, "mark": "rule", "encoding": {"x": {"field": "g", "type": "nominal"}, "y": {"field": "lo", "type": "quantitative"}, "y2": {"field": "hi"}}},
        {"data": {"name": "G_s"}, "mark": {"type": "tick", "size": 40}, "encoding": {"x": {"field": "g", "type": "nominal"}, "y": {"field": "m", "type": "quantitative"}}},
        {"data": {"name": "G_s"}, "mark": {"type": "tick", "size": 22}, "encoding": {"x": {"field": "g", "type": "nominal"}, "y": {"field": "lo", "type": "quantitative"}}},
        {"data": {"name": "G_s"}, "mark": {"type": "tick", "size": 22}, "encoding": {"x": {"field": "g", "type": "nominal"}, "y": {"field": "hi", "type": "quantitative"}}},
        {"data": {"values": [{"g": "Healthy liver", "y": 14.77, "t": "P=0.206"}]}, "mark": "text", "encoding": {"x": {"field": "g", "type": "nominal"}, "y": {"field": "y", "type": "quantitative"}, "text": {"field": "t"}}}
      ]}]},
    {"title": {"text": "H", "anchor": "start", "fontWeight": "normal", "fontSize": 9, "offset": 1},
     "vconcat": [{"title": "GSE41874", "width": 114, "height": 82,
      "layer": [
        {"data": {"name": "H"},
         "transform": [{"bin": {"step": 0.15, "anchor": 0.025}, "field": "v", "as": "vb"}, {"window": [{"op": "row_number", "as": "r"}, {"op": "count", "as": "n"}], "groupby": ["g", "vb"], "frame": [null, null]}, {"calculate": "datum.r - (datum.n + 1) / 2", "as": "o"}],
         "mark": {"type": "point", "size": 20},
         "encoding": {
           "x": {"field": "g", "type": "nominal", "scale": {"type": "point", "padding": 0.6, "domain": ["HCC", "Healthy liver"]}, "axis": {"title": null}},
           "xOffset": {"field": "o", "type": "quantitative", "scale": {"domain": [-1, 1], "range": [-5.5, 5.5]}},
           "y": {"field": "v", "type": "quantitative", "scale": {"domain": [0, 2.5], "nice": false, "zero": false}, "axis": {"values": [0, 0.5, 1, 1.5, 2, 2.5], "format": ".1f", "labelOverlap": false, "title": "Relative miR-145-5p expression"}},
           "color": {"condition": {"test": "datum.g === 'HCC'", "value": "#d81c48"}, "value": "#16966c"},
           "shape": {"condition": {"test": "datum.g === 'HCC'", "value": "triangle-up"}, "value": "circle"}}},
        {"data": {"name": "H_s"}, "mark": "rule", "encoding": {"x": {"field": "g", "type": "nominal"}, "y": {"field": "lo", "type": "quantitative"}, "y2": {"field": "hi"}}},
        {"data": {"name": "H_s"}, "mark": {"type": "tick", "size": 40}, "encoding": {"x": {"field": "g", "type": "nominal"}, "y": {"field": "m", "type": "quantitative"}}},
        {"data": {"name": "H_s"}, "mark": {"type": "tick", "size": 22}, "encoding": {"x": {"field": "g", "type": "nominal"}, "y": {"field": "lo", "type": "quantitative"}}},
        {"data": {"name": "H_s"}, "mark": {"type": "tick", "size": 22}, "encoding": {"x": {"field": "g", "type": "nominal"}, "y": {"field": "hi", "type": "quantitative"}}},
        {"data": {"values": [{"g": "Healthy liver", "y": 2.53, "t": "P=0.013"}]}, "mark": "text", "encoding": {"x": {"field": "g", "type": "nominal"}, "y": {"field": "y", "type": "quantitative"}, "text": {"field": "t"}}}
      ]}]},
    {"title": {"text": "I", "anchor": "start", "fontWeight": "normal", "fontSize": 9, "offset": 1},
     "vconcat": [{"title": "GSE54751", "width": 114, "height": 82,
      "layer": [
        {"data": {"values": [{}]}, "mark": {"type": "rule", "color": "#b8b8b8", "strokeWidth": 1}, "encoding": {"y": {"datum": 0, "type": "quantitative"}}},
        {"data": {"name": "I"},
         "transform": [{"bin": {"step": 0.1, "anchor": 0.05}, "field": "v", "as": "vb"}, {"window": [{"op": "row_number", "as": "r"}, {"op": "count", "as": "n"}], "groupby": ["g", "vb"], "frame": [null, null]}, {"calculate": "datum.r - (datum.n + 1) / 2", "as": "o"}],
         "mark": {"type": "point", "size": 20},
         "encoding": {
           "x": {"field": "g", "type": "nominal", "scale": {"type": "point", "padding": 0.6, "domain": ["HCC", "Adjacent normal liver"]}, "axis": {"title": null}},
           "xOffset": {"field": "o", "type": "quantitative", "scale": {"domain": [-1, 1], "range": [-5.5, 5.5]}},
           "y": {"field": "v", "type": "quantitative", "scale": {"domain": [-0.5, 2], "nice": false, "zero": false}, "axis": {"values": [-0.5, 0, 0.5, 1, 1.5, 2], "format": ".1f", "labelOverlap": false, "title": "Relative miR-145-5p expression"}},
           "color": {"condition": {"test": "datum.g === 'HCC'", "value": "#d81c48"}, "value": "#16966c"},
           "shape": {"condition": {"test": "datum.g === 'HCC'", "value": "triangle-up"}, "value": "circle"}}},
        {"data": {"name": "I_s"}, "mark": "rule", "encoding": {"x": {"field": "g", "type": "nominal"}, "y": {"field": "lo", "type": "quantitative"}, "y2": {"field": "hi"}}},
        {"data": {"name": "I_s"}, "mark": {"type": "tick", "size": 40}, "encoding": {"x": {"field": "g", "type": "nominal"}, "y": {"field": "m", "type": "quantitative"}}},
        {"data": {"name": "I_s"}, "mark": {"type": "tick", "size": 22}, "encoding": {"x": {"field": "g", "type": "nominal"}, "y": {"field": "lo", "type": "quantitative"}}},
        {"data": {"name": "I_s"}, "mark": {"type": "tick", "size": 22}, "encoding": {"x": {"field": "g", "type": "nominal"}, "y": {"field": "hi", "type": "quantitative"}}},
        {"data": {"values": [{"g": "Adjacent normal liver", "y": 2.0, "t": "P=0.100"}]}, "mark": "text", "encoding": {"x": {"field": "g", "type": "nominal"}, "y": {"field": "y", "type": "quantitative"}, "text": {"field": "t"}}}
      ]}]},
    {"title": {"text": "J", "anchor": "start", "fontWeight": "normal", "fontSize": 9, "offset": 1},
     "vconcat": [{"title": "GSE57555", "width": 114, "height": 82,
      "layer": [
        {"data": {"values": [{}]}, "mark": {"type": "rule", "color": "#b8b8b8", "strokeWidth": 1}, "encoding": {"y": {"datum": 0, "type": "quantitative"}}},
        {"data": {"name": "J"},
         "transform": [{"bin": {"step": 0.01, "anchor": 0.005}, "field": "v", "as": "vb"}, {"window": [{"op": "row_number", "as": "r"}, {"op": "count", "as": "n"}], "groupby": ["g", "vb"], "frame": [null, null]}, {"calculate": "datum.r - (datum.n + 1) / 2", "as": "o"}],
         "mark": {"type": "point", "size": 20},
         "encoding": {
           "x": {"field": "g", "type": "nominal", "scale": {"type": "point", "padding": 0.6, "domain": ["HCC", "Adjacent normal liver"]}, "axis": {"title": null}},
           "xOffset": {"field": "o", "type": "quantitative", "scale": {"domain": [-1, 1], "range": [-5.5, 5.5]}},
           "y": {"field": "v", "type": "quantitative", "scale": {"domain": [-0.2, 0], "nice": false, "zero": false}, "axis": {"values": [-0.2, -0.15, -0.1, -0.05, 0], "format": ".2f", "labelOverlap": false, "title": "Relative miR-145-5p expression"}},
           "color": {"condition": {"test": "datum.g === 'HCC'", "value": "#d81c48"}, "value": "#16966c"},
           "shape": {"condition": {"test": "datum.g === 'HCC'", "value": "triangle-up"}, "value": "circle"}}},
        {"data": {"name": "J_s"}, "mark": "rule", "encoding": {"x": {"field": "g", "type": "nominal"}, "y": {"field": "lo", "type": "quantitative"}, "y2": {"field": "hi"}}},
        {"data": {"name": "J_s"}, "mark": {"type": "tick", "size": 40}, "encoding": {"x": {"field": "g", "type": "nominal"}, "y": {"field": "m", "type": "quantitative"}}},
        {"data": {"name": "J_s"}, "mark": {"type": "tick", "size": 22}, "encoding": {"x": {"field": "g", "type": "nominal"}, "y": {"field": "lo", "type": "quantitative"}}},
        {"data": {"name": "J_s"}, "mark": {"type": "tick", "size": 22}, "encoding": {"x": {"field": "g", "type": "nominal"}, "y": {"field": "hi", "type": "quantitative"}}},
        {"data": {"values": [{"g": "Adjacent normal liver", "y": -0.013, "t": "P=0.087"}]}, "mark": "text", "encoding": {"x": {"field": "g", "type": "nominal"}, "y": {"field": "y", "type": "quantitative"}, "text": {"field": "t"}}}
      ]}]},
    {"title": {"text": "K", "anchor": "start", "fontWeight": "normal", "fontSize": 9, "offset": 1},
     "vconcat": [{"title": "GSE69580", "width": 114, "height": 82,
      "layer": [
        {"data": {"name": "K"},
         "transform": [{"bin": {"step": 2, "anchor": 1}, "field": "v", "as": "vb"}, {"window": [{"op": "row_number", "as": "r"}, {"op": "count", "as": "n"}], "groupby": ["g", "vb"], "frame": [null, null]}, {"calculate": "datum.r - (datum.n + 1) / 2", "as": "o"}],
         "mark": {"type": "point", "size": 20},
         "encoding": {
           "x": {"field": "g", "type": "nominal", "scale": {"type": "point", "padding": 0.6, "domain": ["HCC", "Adjacent normal liver"]}, "axis": {"title": null}},
           "xOffset": {"field": "o", "type": "quantitative", "scale": {"domain": [-1, 1], "range": [-5.5, 5.5]}},
           "y": {"field": "v", "type": "quantitative", "scale": {"domain": [0, 40], "nice": false, "zero": false}, "axis": {"values": [0, 10, 20, 30, 40], "labelOverlap": false, "title": "Relative miR-145-5p expression"}},
           "color": {"condition": {"test": "datum.g === 'HCC'", "value": "#d81c48"}, "value": "#16966c"},
           "shape": {"condition": {"test": "datum.g === 'HCC'", "value": "triangle-up"}, "value": "circle"}}},
        {"data": {"name": "K_s"}, "mark": "rule", "encoding": {"x": {"field": "g", "type": "nominal"}, "y": {"field": "lo", "type": "quantitative"}, "y2": {"field": "hi"}}},
        {"data": {"name": "K_s"}, "mark": {"type": "tick", "size": 40}, "encoding": {"x": {"field": "g", "type": "nominal"}, "y": {"field": "m", "type": "quantitative"}}},
        {"data": {"name": "K_s"}, "mark": {"type": "tick", "size": 22}, "encoding": {"x": {"field": "g", "type": "nominal"}, "y": {"field": "lo", "type": "quantitative"}}},
        {"data": {"name": "K_s"}, "mark": {"type": "tick", "size": 22}, "encoding": {"x": {"field": "g", "type": "nominal"}, "y": {"field": "hi", "type": "quantitative"}}},
        {"data": {"values": [{"g": "Adjacent normal liver", "y": 41.6, "t": "P=0.024"}]}, "mark": "text", "encoding": {"x": {"field": "g", "type": "nominal"}, "y": {"field": "y", "type": "quantitative"}, "text": {"field": "t"}}}
      ]}]}
  ]
}
